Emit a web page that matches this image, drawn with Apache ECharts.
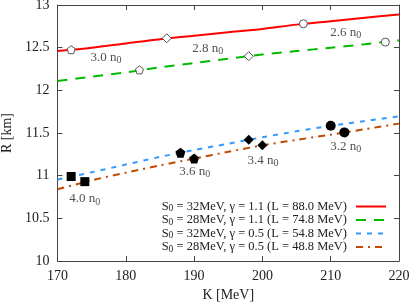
<!DOCTYPE html>
<html>
<head>
<meta charset="utf-8">
<script src="https://cdn.jsdelivr.net/npm/echarts@6/dist/echarts.min.js"></script>
<style>html,body{margin:0;padding:0;background:#fff;}#c{width:409px;height:302px;}</style>
</head>
<body>
<div id="c"></div>
<script>
// ---- data ----
var kGrid = [170, 175, 180, 185, 190, 195, 200, 205, 210, 215, 220];
var rRed    = [12.46, 12.50, 12.55, 12.60, 12.64, 12.68, 12.72, 12.77, 12.81, 12.85, 12.89];
var rGreen  = [12.11, 12.16, 12.21, 12.27, 12.32, 12.37, 12.42, 12.46, 12.50, 12.54, 12.585];
var rBlue   = [10.955, 11.04, 11.13, 11.22, 11.30, 11.375, 11.45, 11.52, 11.585, 11.64, 11.695];
var rOrange = [10.84, 10.945, 11.035, 11.12, 11.20, 11.28, 11.355, 11.42, 11.48, 11.545, 11.61];

var seriesNames = [
  'S0 = 32MeV, γ = 1.1 (L = 88.0 MeV)',
  'S0 = 28MeV, γ = 1.1 (L = 74.8 MeV)',
  'S0 = 32MeV, γ = 0.5 (L = 54.8 MeV)',
  'S0 = 28MeV, γ = 0.5 (L = 48.8 MeV)'
];

// density markers (n/n0)
var redMarkK = [172, 186, 206];
var redMarkR = [12.476, 12.61, 12.78];
var redMarkN = [3.0, 2.8, 2.6];
var greenMarkK = [182, 198, 218];
var greenMarkR = [12.24, 12.40, 12.565];
var greenMarkN = [3.0, 2.8, 2.6];
var blueMarkK = [172, 188, 198, 210];
var blueMarkR = [10.99, 11.27, 11.42, 11.585];
var blueMarkN = [4.0, 3.6, 3.4, 3.2];
var orangeMarkK = [174, 190, 200, 212];
var orangeMarkR = [10.93, 11.20, 11.355, 11.507];
var orangeMarkN = [4.0, 3.6, 3.4, 3.2];

// density annotations
var annText = ['3.0', '2.8', '2.6', '4.0', '3.6', '3.4', '3.2'];
var annK = [177.1, 192.0, 212.2, 174.0, 190.1, 200.1, 212.2];
var annR = [12.386, 12.49, 12.68, 10.726, 11.047, 11.18, 11.343];

var xTicks = [170, 180, 190, 200, 210, 220];
var yTicks = [10, 10.5, 11, 11.5, 12, 12.5, 13];

// ---- build ----
var FONT = '"Liberation Serif", "DejaVu Serif", serif';
var PENT = 'path://M0,-1 L0.951,-0.309 L0.588,0.809 L-0.588,0.809 L-0.951,-0.309 Z';
var symbolFor = {'2.6':'circle','2.8':'diamond','3':'pentagon','3.2':'circle','3.4':'diamond','3.6':'pentagon','4':'rect'};
function sym(n){ var s = symbolFor[String(n)]; return s === 'pentagon' ? PENT : s; }
function zip(a, b){ return a.map(function(v, i){ return [v, b[i]]; }); }
function markData(ks, rs, ns, open){
  return ks.map(function(k, i){
    var s = sym(ns[i]);
    var size = open ? (s === 'rect' ? 7 : (s === 'diamond' ? 9 : 8)) : (s === 'rect' ? 9 : 10);
    return {value: [k, rs[i]], symbol: s, symbolSize: size};
  });
}
var colors = ['#ff0000', '#00bb00', '#3399ff', '#c04a00'];
var dashes = ['solid', [10, 8], [5, 6], [7, 5, 2, 5]];
var lineData = [rRed, rGreen, rBlue, rOrange];

var series = [];
for (var i = 0; i < 4; i++) {
  series.push({
    name: seriesNames[i], type: 'line', xAxisIndex: 0, yAxisIndex: 0,
    data: zip(kGrid, lineData[i]), symbol: 'none', smooth: 0.3,
    lineStyle: {color: colors[i], width: 2, type: dashes[i]},
    itemStyle: {color: colors[i]}, z: 2, silent: true
  });
}
series.push({
  type: 'scatter', xAxisIndex: 0, yAxisIndex: 0, z: 5, silent: true,
  data: markData(redMarkK, redMarkR, redMarkN, true).concat(markData(greenMarkK, greenMarkR, greenMarkN, true)),
  itemStyle: {color: '#ffffff', borderColor: '#555', borderWidth: 1, opacity: 1}
});
series.push({
  type: 'scatter', xAxisIndex: 0, yAxisIndex: 0, z: 5, silent: true,
  data: markData(blueMarkK, blueMarkR, blueMarkN, false).concat(markData(orangeMarkK, orangeMarkR, orangeMarkN, false)),
  itemStyle: {color: '#000000', opacity: 1}
});
series.push({
  type: 'scatter', xAxisIndex: 0, yAxisIndex: 0, z: 6, silent: true, symbolSize: 0,
  data: annK.map(function(k, i){ return {value: [k, annR[i]], name: annText[i]}; }),
  label: {
    show: true, position: 'inside',
    formatter: function(p){ return '{a|' + p.name + ' n}{s|0}'; },
    rich: {
      a: {fontFamily: FONT, fontSize: 13, color: '#222', lineHeight: 16},
      s: {fontFamily: FONT, fontSize: 10, color: '#222', lineHeight: 9, verticalAlign: 'bottom'}
    }
  }
});

var axisCommon = {
  type: 'value', scale: false,
  axisLine: {show: true, lineStyle: {color: '#444', width: 1}},
  axisTick: {show: true, inside: true, length: 5, lineStyle: {color: '#444'}},
  splitLine: {show: false}
};

var chart = echarts.init(document.getElementById('c'), null, {renderer: 'canvas'});
chart.setOption({
  animation: false,
  backgroundColor: '#fff',
  grid: {left: 57.5, right: 10, top: 5, bottom: 41, containLabel: false, outerBoundsMode: 'none'},
  xAxis: [
    Object.assign({}, axisCommon, {
      position: 'bottom', min: xTicks[0], max: xTicks[xTicks.length - 1], interval: 10,
      name: 'K [MeV]', nameLocation: 'middle', nameGap: 26,
      nameTextStyle: {fontFamily: FONT, fontSize: 14, color: '#222'},
      axisLabel: {fontFamily: FONT, fontSize: 14, color: '#222', margin: 8}
    }),
    Object.assign({}, axisCommon, {
      position: 'top', min: xTicks[0], max: xTicks[xTicks.length - 1], interval: 10,
      axisLabel: {show: false}
    })
  ],
  yAxis: [
    Object.assign({}, axisCommon, {
      position: 'left', min: yTicks[0], max: yTicks[yTicks.length - 1], interval: 0.5,
      name: 'R [km]', nameLocation: 'middle', nameGap: 43,
      nameTextStyle: {fontFamily: FONT, fontSize: 14, color: '#222'},
      axisLabel: {fontFamily: FONT, fontSize: 14, color: '#222', margin: 8}
    }),
    Object.assign({}, axisCommon, {
      position: 'right', min: yTicks[0], max: yTicks[yTicks.length - 1], interval: 0.5,
      axisLabel: {show: false}
    })
  ],
  legend: {
    data: seriesNames, orient: 'vertical', align: 'right',
    right: 22, top: 200, itemWidth: 30, itemHeight: 10, itemGap: 0,
    padding: 0, selectedMode: false,
    itemStyle: {color: 'transparent', borderWidth: 0, opacity: 0},
    formatter: function(name){
      return '{t|S}{s|0}{e|' + name.slice(2) + '}';
    },
    textStyle: {
      rich: {
        t: {fontFamily: FONT, fontSize: 12.5, color: '#222', lineHeight: 14},
        e: {fontFamily: FONT, fontSize: 12.5, color: '#222', lineHeight: 14, padding: [0, 4, 0, 0]},
        s: {fontFamily: FONT, fontSize: 9.5, color: '#222', lineHeight: 9, verticalAlign: 'bottom'}
      }
    }
  },
  series: series
});
</script>
</body>
</html>
